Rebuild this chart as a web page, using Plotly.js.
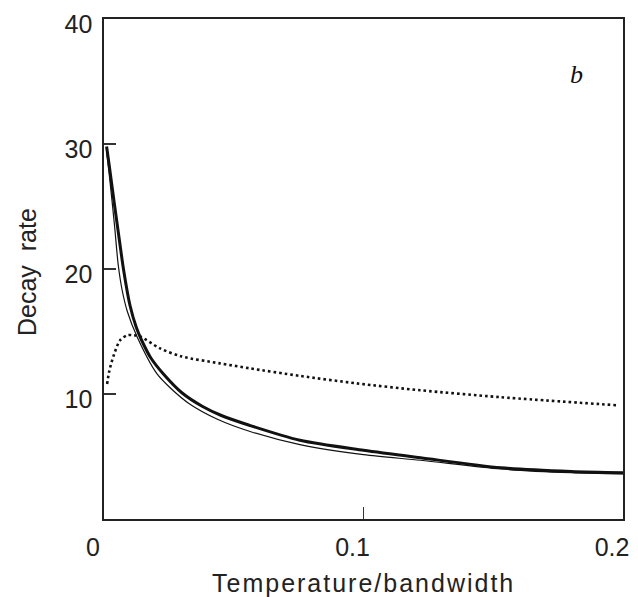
<!DOCTYPE html>
<html>
<head>
<meta charset="utf-8">
<script src="https://cdn.plot.ly/plotly-3.0.1.min.js"></script>
<style>
html,body{margin:0;padding:0;background:#fff;}
#chart{width:638px;height:597px;}
#chart g.annotation[data-index="0"] text{letter-spacing:2px;}
</style>
</head>
<body>
<div id="chart"></div>
<script>
// Thick solid curve
var thickX = [0.001, 0.002, 0.004, 0.006, 0.0075, 0.010, 0.0125, 0.0145, 0.018, 0.0229, 0.030, 0.038, 0.045, 0.056, 0.0755, 0.100, 0.122, 0.153, 0.180, 0.200];
var thickY = [29.8, 28.3, 25.2, 22.2, 20.0, 17.1, 15.3, 14.3, 12.9, 11.6, 10.1, 9.0, 8.3, 7.5, 6.3, 5.5, 4.9, 4.1, 3.8, 3.7];
// Thin solid curve
var thinX = [0.001, 0.002, 0.004, 0.0055, 0.007, 0.009, 0.0127, 0.0203, 0.026, 0.033, 0.0435, 0.0563, 0.0755, 0.100, 0.122, 0.153, 0.180, 0.200];
var thinY = [29.4, 27.6, 23.6, 20.3, 18.3, 16.6, 14.6, 11.65, 10.4, 9.2, 8.0, 7.0, 5.95, 5.15, 4.7, 4.0, 3.7, 3.6];
// Dotted curve
var dotX = [0.0012, 0.002, 0.0036, 0.0062, 0.009, 0.0115, 0.0139, 0.0216, 0.030, 0.0447, 0.0563, 0.0755, 0.0974, 0.1218, 0.1526, 0.1976];
var dotY = [10.8, 11.8, 13.0, 14.3, 14.7, 14.7, 14.6, 13.65, 13.0, 12.45, 12.05, 11.45, 10.85, 10.3, 9.75, 9.1];

var xTickVals = [0, 0.1, 0.2];
var xTickText = ['0', '0.1', '0.2'];
var yTickVals = [10, 20, 30, 40];
var yTickText = ['10', '20', '30', '40'];

var xTitle = 'Temperature/bandwidth';
var yTitle = 'Decay  rate';
var panelLabel = 'b';

var traces = [
  {x: thinX, y: thinY, type: 'scatter', mode: 'lines', line: {color: '#111', width: 1.2, shape: 'spline', smoothing: 0.8}, hoverinfo: 'skip'},
  {x: thickX, y: thickY, type: 'scatter', mode: 'lines', line: {color: '#111', width: 3, shape: 'spline', smoothing: 0.8}, hoverinfo: 'skip'},
  {x: dotX, y: dotY, type: 'scatter', mode: 'lines', line: {color: '#111', width: 2.6, dash: '2.6px,3px', shape: 'spline', smoothing: 0.8}, hoverinfo: 'skip'}
];

var tickFont = {family: 'Liberation Sans, Arial, sans-serif', size: 25, color: '#222'};
var titleFont = {family: 'Liberation Sans, Arial, sans-serif', size: 25, color: '#222'};

var layout = {
  width: 638, height: 597,
  margin: {l: 104, r: 15, t: 19, b: 78, pad: 0},
  paper_bgcolor: '#fff', plot_bgcolor: '#fff',
  showlegend: false,
  xaxis: {
    range: [0, 0.2], tickvals: xTickVals, ticktext: xTickText,
    ticks: 'inside', ticklen: 12, tickwidth: 1.2, tickcolor: '#333',
    showline: true, linecolor: '#222', linewidth: 1.6, mirror: true,
    showgrid: false, zeroline: false, tickfont: tickFont, ticklabelshift: -11, ticklabelstandoff: 5
  },
  yaxis: {
    range: [0, 40], tickvals: yTickVals, ticktext: yTickText,
    ticks: 'inside', ticklen: 12, tickwidth: 1.2, tickcolor: '#333',
    showline: true, linecolor: '#222', linewidth: 1.6, mirror: true,
    showgrid: false, zeroline: false, tickfont: tickFont, ticklabelstandoff: 5, ticklabelshift: 5
  },
  annotations: [
    {text: xTitle, xref: 'paper', yref: 'paper', x: 0.5, y: 0, xanchor: 'center', yanchor: 'middle', yshift: -64, showarrow: false, font: titleFont},
    {text: yTitle, xref: 'paper', yref: 'paper', x: 0, y: 0.5, xanchor: 'center', yanchor: 'middle', xshift: -77, yshift: -3, textangle: -90, showarrow: false, font: titleFont},
    {text: '<i>' + panelLabel + '</i>', xref: 'x', yref: 'y', x: 0.182, y: 35.6, xanchor: 'center', yanchor: 'middle', showarrow: false,
     font: {family: 'Liberation Serif, Times New Roman, serif', size: 26, color: '#111'}}
  ]
};

Plotly.newPlot('chart', traces, layout, {staticPlot: true, displayModeBar: false});
</script>
</body>
</html>
